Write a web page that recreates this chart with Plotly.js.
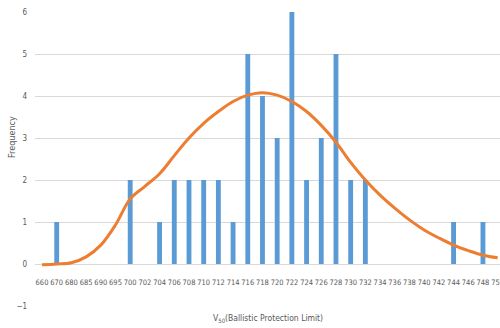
<!DOCTYPE html>
<html>
<head>
<meta charset="utf-8">
<script src="https://cdn.plot.ly/plotly-3.0.1.min.js"></script>
<style>
html,body{margin:0;padding:0;overflow:hidden;background:#fff;}
#chart{width:500px;height:328px;}
</style>
</head>
<body>
<div id="chart"></div>
<script>
var categories = ["660","670","680","685","690","695","700","702","704","706","708","710","712","714","716","718","720","722","724","726","728","730","732","734","736","738","740","742","744","746","748","750"];
var frequency = [0,1,0,0,0,0,2,0,1,2,2,2,2,1,5,4,3,6,2,3,5,2,2,0,0,0,0,0,1,0,1,0];
var fitCurve = [-0.02,0,0.03,0.17,0.45,0.93,1.55,1.85,2.15,2.58,3.0,3.35,3.63,3.87,4.02,4.08,4.02,3.87,3.63,3.3,2.9,2.42,2.0,1.64,1.33,1.05,0.81,0.62,0.45,0.32,0.21,0.15];
var yTicks = [-1,0,1,2,3,4,5,6];

var fam = "DejaVu Sans Condensed, Liberation Sans, sans-serif";
var tickFont = {family: fam, size: 7.5, color: "#595959"};

var traces = [
  {
    type: "bar",
    x: categories,
    y: frequency,
    marker: {color: "#5B9BD5"},
    width: 0.33,
    hoverinfo: "x+y"
  },
  {
    type: "scatter",
    mode: "lines",
    x: categories,
    y: fitCurve,
    line: {color: "#ED7D31", width: 3, shape: "spline", smoothing: 1},
    hoverinfo: "x+y"
  }
];

var layout = {
  width: 500,
  height: 328,
  margin: {l: 35, r: 0, t: 12, b: 22},
  paper_bgcolor: "#fff",
  plot_bgcolor: "#fff",
  showlegend: false,
  xaxis: {
    type: "category",
    range: [-0.476, 31.16],
    anchor: "free",
    position: 1/7,
    showgrid: false,
    zeroline: false,
    showline: false,
    ticks: "",
    tickfont: tickFont,
    ticklabelstandoff: 12,
    tickangle: 0
  },
  yaxis: {
    range: [-1, 6],
    tickvals: yTicks,
    showgrid: true,
    gridcolor: "#D9D9D9",
    gridwidth: 1,
    zeroline: true,
    zerolinecolor: "#D9D9D9",
    zerolinewidth: 1,
    showline: false,
    ticks: "",
    tickfont: {family: fam, size: 8, color: "#595959"},
    ticklabelstandoff: 7
  },
  annotations: [
    {
      text: "V<sub>50</sub>(Ballistic Protection Limit)",
      xref: "paper", yref: "paper",
      x: 0.5, y: -0.041,
      xanchor: "center", yanchor: "middle",
      showarrow: false,
      font: {family: fam, size: 8.5, color: "#595959"}
    },
    {
      text: "Frequency",
      xref: "paper", yref: "paper",
      x: -0.0495, y: 0.575,
      xanchor: "center", yanchor: "middle",
      textangle: -90,
      showarrow: false,
      font: {family: fam, size: 9, color: "#595959"}
    }
  ]
};

Plotly.newPlot("chart", traces, layout, {displayModeBar: false, staticPlot: true});
</script>
</body>
</html>
